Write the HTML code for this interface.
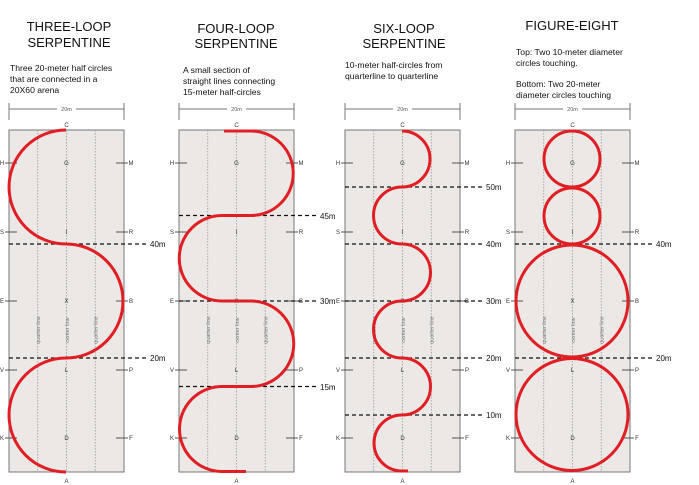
<!DOCTYPE html>
<html><head><meta charset="utf-8"><style>
html,body{margin:0;padding:0;background:#fff;}
svg{display:block;}
.t{font-family:"Liberation Sans",Arial,sans-serif;}
</style></head><body>
<svg width="699" height="485" viewBox="0 0 699 485" xmlns="http://www.w3.org/2000/svg" class="t">
<g font-size="13" fill="#111" text-anchor="middle">
<text x="69" y="31">THREE-LOOP</text><text x="69" y="47">SERPENTINE</text>
<text x="236" y="33">FOUR-LOOP</text><text x="236" y="48">SERPENTINE</text>
<text x="404" y="33">SIX-LOOP</text><text x="404" y="48">SERPENTINE</text>
<text x="572" y="30">FIGURE-EIGHT</text>
</g>
<g font-size="8.6" fill="#111">
<text x="10" y="71">Three 20-meter half circles</text>
<text x="10" y="82">that are connected in a</text>
<text x="10" y="93">20X60 arena</text>
<text x="183" y="73">A small section of</text>
<text x="183" y="84">straight lines connecting</text>
<text x="183" y="95">15-meter half-circles</text>
<text x="345" y="68">10-meter half-circles from</text>
<text x="345" y="79">quarterline to quarterline</text>
<text x="516" y="55">Top: Two 10-meter diameter</text>
<text x="516" y="66">circles touching.</text>
<text x="516" y="87">Bottom: Two 20-meter</text>
<text x="516" y="98">diameter circles touching</text>
</g>

<g id="a1" transform="translate(9,0)">
<line x1="0" y1="109" x2="115" y2="109" stroke="#777" stroke-width="1"/>
<line x1="0" y1="103" x2="0" y2="120" stroke="#777"/><line x1="115" y1="103" x2="115" y2="120" stroke="#777"/>
<rect x="48" y="105" width="19" height="8" fill="#fff"/>
<text x="57.5" y="111" font-size="5.5" fill="#555" text-anchor="middle">20m</text>
<rect x="0" y="130" width="115" height="342" fill="#ebe8e5" stroke="#777" stroke-width="1"/>
<g stroke="#999" stroke-width="0.8" stroke-dasharray="1.5,1.5"><line x1="28.75" y1="130" x2="28.75" y2="472"/><line x1="57.5" y1="130" x2="57.5" y2="472"/><line x1="86.25" y1="130" x2="86.25" y2="472"/></g>
<g stroke="#555" stroke-width="1"><line x1="-4" y1="163" x2="8" y2="163"/><line x1="-4" y1="232" x2="8" y2="232"/><line x1="-4" y1="301" x2="8" y2="301"/><line x1="-4" y1="370" x2="8" y2="370"/><line x1="-4" y1="438" x2="8" y2="438"/>
<line x1="107" y1="163" x2="119" y2="163"/><line x1="107" y1="232" x2="119" y2="232"/><line x1="107" y1="301" x2="119" y2="301"/><line x1="107" y1="370" x2="119" y2="370"/><line x1="107" y1="438" x2="119" y2="438"/></g>
<g font-size="6" fill="#333" text-anchor="middle">
<text x="57.5" y="127">C</text><text x="57.5" y="483">A</text>
<text x="57.5" y="165">G</text><text x="57.5" y="234">I</text><text x="57.5" y="303">X</text><text x="57.5" y="372">L</text><text x="57.5" y="440">D</text>
<text x="-7" y="165">H</text><text x="-7" y="234">S</text><text x="-7" y="303">E</text><text x="-7" y="372">V</text><text x="-7" y="440">K</text>
<text x="122" y="165">M</text><text x="122" y="234">R</text><text x="122" y="303">B</text><text x="122" y="372">P</text><text x="122" y="440">F</text>
</g>
<g font-size="5.5" fill="#777" text-anchor="middle">
<text transform="translate(31,330) rotate(-90)">quarter line</text>
<text transform="translate(60,330) rotate(-90)">center line</text>
<text transform="translate(88.5,330) rotate(-90)">quarter line</text>
</g>
</g>
<use href="#a1" x="170"/>
<use href="#a1" x="336"/>
<use href="#a1" x="506"/>

<g stroke="#111" stroke-width="1.3" stroke-dasharray="4,3">
<line x1="9" y1="244" x2="147" y2="244"/><line x1="9" y1="358" x2="147" y2="358"/>
<line x1="179" y1="215.5" x2="317" y2="215.5"/><line x1="179" y1="301" x2="317" y2="301"/><line x1="179" y1="386.5" x2="317" y2="386.5"/>
<line x1="345" y1="187" x2="483" y2="187"/><line x1="345" y1="244" x2="483" y2="244"/><line x1="345" y1="301" x2="483" y2="301"/><line x1="345" y1="358" x2="483" y2="358"/><line x1="345" y1="415" x2="483" y2="415"/>
<line x1="515" y1="244" x2="653" y2="244"/><line x1="515" y1="358" x2="653" y2="358"/>
</g>
<g font-size="8" fill="#111">
<text x="150" y="247">40m</text><text x="150" y="361">20m</text>
<text x="320" y="219">45m</text><text x="320" y="304">30m</text><text x="320" y="390">15m</text>
<text x="486" y="190">50m</text><text x="486" y="247">40m</text><text x="486" y="304">30m</text><text x="486" y="361">20m</text><text x="486" y="418">10m</text>
<text x="656" y="247">40m</text><text x="656" y="361">20m</text>
</g>

<g fill="none" stroke="#e01e24" stroke-width="3" stroke-linecap="butt">
<path d="M66 130 A57 57 0 0 0 66 244 A57 57 0 0 1 66 358 A57 57 0 0 0 66 472"/>
<path d="M224 131 H251 A42.25 42.25 0 0 1 251 215.5 H222 A42.75 42.75 0 0 0 222 301 H251 A42.75 42.75 0 0 1 251 386.5 H222 A42.5 42.5 0 0 0 222 471.5 H246"/>
<path d="M402 131 A28 28 0 0 1 402 187 A28.5 28.5 0 0 0 402 244 A28.5 28.5 0 0 1 402 301 A28.5 28.5 0 0 0 402 358 A28.5 28.5 0 0 1 402 415 A28 28 0 0 0 402 471 H408"/>
<circle cx="572" cy="159" r="28"/><circle cx="572" cy="216" r="28"/>
<circle cx="572" cy="301" r="56"/><circle cx="572" cy="414.5" r="56"/>
</g>
</svg>
</body></html>
